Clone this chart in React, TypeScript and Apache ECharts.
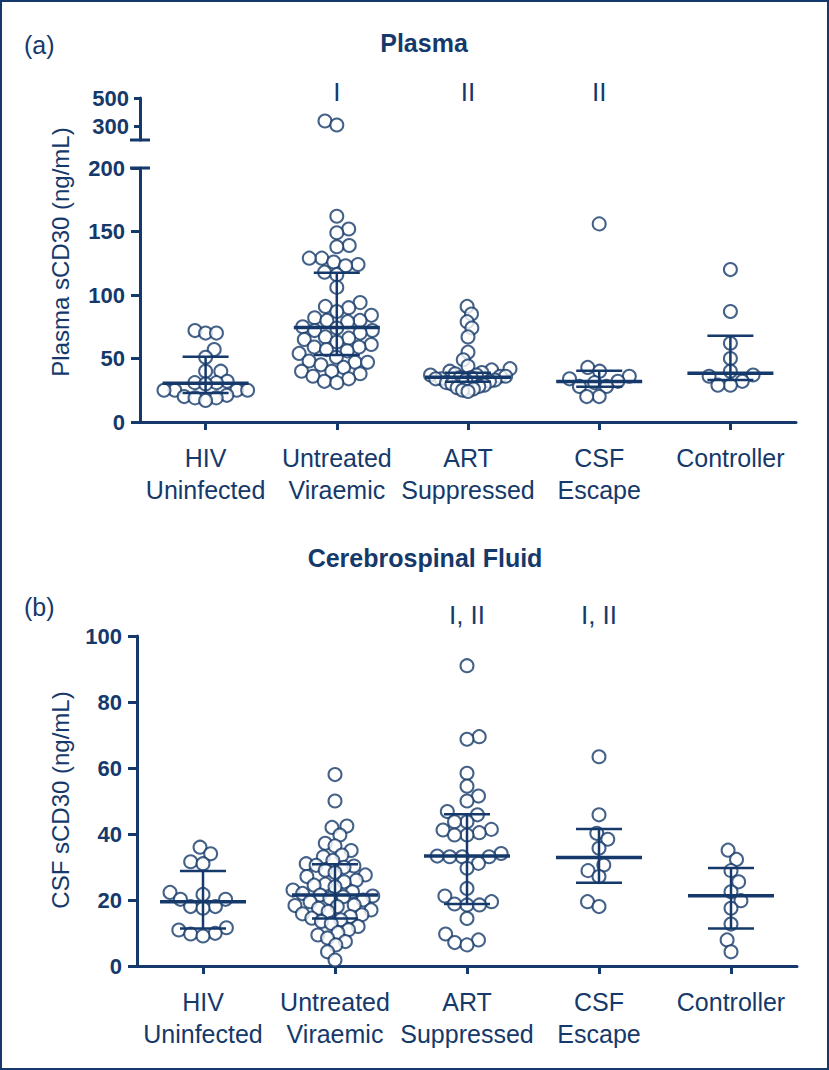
import React, { useEffect, useRef } from "react";
import * as echarts from "echarts";

// ---------- DATA ----------
const categories = ["HIV\nUninfected", "Untreated\nViraemic", "ART\nSuppressed", "CSF\nEscape", "Controller"];

const plasmaHIV = [72, 70, 70, 57, 51, 40, 40, 32, 31, 31, 30, 25, 25, 25, 25, 21, 20, 19, 19, 17];
const plasmaUntreated = [336, 307, 162, 152, 149, 139, 138, 129, 129, 126, 124, 123, 118, 116, 106, 94, 91, 90, 87, 84, 82, 80, 80, 79, 75, 74, 72, 72, 70, 67, 66, 65, 63, 61, 59, 59, 57, 56, 54, 51, 48, 47, 47, 45, 43, 40, 40, 38, 36, 34, 32, 31];
const plasmaART = [91, 85, 79, 74, 67, 55, 49, 44, 42, 41, 40, 39, 38, 37, 37, 36, 36, 35, 35, 34, 34, 33, 33, 32, 31, 30, 29, 28, 27, 26, 25, 24];
const plasmaCSFEscape = [156, 43, 40, 36, 34, 32, 31, 28, 28, 20, 20];
const plasmaController = [120, 87, 62, 50, 40, 37, 36, 32, 29, 29];

const plasmaMedian = [30.5, 74.5, 35.2, 31.8, 38.3];
const plasmaQ1 = [22.8, 52.8, 31.7, 27.8, 33];
const plasmaQ3 = [51.4, 117.6, 38.8, 40.4, 68];

const csfHIV = [36, 34, 31.6, 31, 22.3, 21.7, 20.2, 20.2, 18, 18, 17.5, 11.6, 10.9, 9.9, 9.7, 9.1];
const csfUntreated = [58, 50, 42.4, 42, 39.7, 37.2, 36.4, 35, 33.6, 33.1, 32, 31, 30.5, 30.3, 29.9, 29, 28.3, 27.6, 27.1, 26, 25.5, 24.8, 24.5, 24, 23, 22.5, 22, 21.5, 21.2, 21, 20.5, 20, 19.5, 18.5, 18.3, 18, 17.5, 17, 16.5, 15.8, 15.5, 15, 14.5, 14, 13.5, 12.9, 12, 11, 10.1, 9.4, 8.5, 7.4, 6.4, 4.3, 1.8];
const csfART = [91, 69.5, 68.7, 58.4, 54.5, 51.5, 50, 46.8, 45.8, 43.7, 43.7, 41.4, 41.2, 40.4, 39.7, 39.7, 34.1, 33.3, 33.1, 33.1, 33.1, 31.1, 29.6, 23.5, 21.2, 19.5, 18.8, 18.5, 18.5, 14.4, 9.7, 7.9, 7.1, 6.4];
const csfEscape = [63.4, 45.8, 40.2, 38.4, 35.7, 30.6, 28.9, 27.1, 19.5, 18];
const csfController = [35.1, 32.3, 28.9, 25.5, 22.5, 19.8, 17.5, 12.7, 7.9, 4.3];

const csfMedian = [19.5, 21.5, 33.3, 32.9, 21.3];
const csfQ1 = [11.4, 14.4, 18.8, 25.2, 11.4];
const csfQ3 = [28.8, 30.8, 46, 41.5, 29.7];

const plasmaSignif = ["", "I", "II", "II", ""];
const csfSignif = ["", "", "I, II", "I, II", ""];

const plasmaTicksLow = [0, 200, 50];
const plasmaTicksHigh = [300, 500];
const csfTicks = [0, 100, 20];

// ---------- STYLE / LAYOUT ----------
const NAVY = "#15396a";
const FONT = "Liberation Sans, Arial, Helvetica, sans-serif";

const G_UP = { left: 140, top: 98, width: 656, height: 42 };
const G_LOW = { left: 140, top: 168, width: 656, height: 254 };
const G_CSF = { left: 137, top: 636, width: 660, height: 330 };
const BREAK = 200;
const DOT = 13;
const SEP = 12.5;
const MAX_HALF = 42;

function swarm(values: number[], pxPerUnit: number, d: number): number[] {
  const idx = values.map((_, i) => i).sort((a, b) => values[a] - values[b]);
  const placed: { x: number; y: number }[] = [];
  const out = new Array(values.length).fill(0);
  let flip = 1;
  for (const i of idx) {
    const y = values[i] * pxPerUnit;
    const near = placed.filter((p) => Math.abs(p.y - y) < d);
    const cands = [0];
    for (const p of near) {
      const dx = Math.sqrt(d * d - (p.y - y) ** 2);
      cands.push(p.x + dx, p.x - dx);
    }
    cands.sort((a, b) => Math.abs(a) - Math.abs(b) || (b - a) * flip);
    let chosen = 0;
    for (const c of cands) {
      if (near.every((p) => Math.abs(p.x - c) >= Math.sqrt(d * d - (p.y - y) ** 2) - 1e-6)) {
        chosen = c;
        break;
      }
    }
    flip = -flip;
    placed.push({ x: chosen, y });
    out[i] = chosen;
  }
  const maxAbs = Math.max(1e-9, ...out.map((o) => Math.abs(o)));
  const k = maxAbs > MAX_HALF ? MAX_HALF / maxAbs : 1;
  return out.map((o) => o * k);
}

function buildPoints(groups: number[][], pxPerUnit: number, bandPx: number, filter: (v: number) => boolean, base = 0) {
  const pts: number[][] = [];
  groups.forEach((g, gi) => {
    const vals = g.filter(filter);
    const offs = swarm(vals.map((v) => v - base), pxPerUnit, SEP);
    vals.forEach((v, k) => pts.push([gi + offs[k] / bandPx, v]));
  });
  return pts;
}

function barRender(params: any, api: any) {
  const x = api.value(0);
  const pm = api.coord([x, api.value(1)]);
  const p1 = api.coord([x, api.value(2)]);
  const p3 = api.coord([x, api.value(3)]);
  const st = { stroke: NAVY, lineWidth: 2.5 };
  return {
    type: "group",
    children: [
      { type: "line", shape: { x1: pm[0], y1: p1[1], x2: pm[0], y2: p3[1] }, style: st },
      { type: "line", shape: { x1: pm[0] - 23, y1: p1[1], x2: pm[0] + 23, y2: p1[1] }, style: st },
      { type: "line", shape: { x1: pm[0] - 23, y1: p3[1], x2: pm[0] + 23, y2: p3[1] }, style: st },
      { type: "line", shape: { x1: pm[0] - 43, y1: pm[1], x2: pm[0] + 43, y2: pm[1] }, style: { stroke: NAVY, lineWidth: 3.5 } },
    ],
  };
}

export default function App() {
  const ref = useRef<HTMLDivElement>(null);
  useEffect(() => {
    if (!ref.current) return;
    const chart = echarts.init(ref.current, null, { renderer: "svg" });

    const plasmaGroups = [plasmaHIV, plasmaUntreated, plasmaART, plasmaCSFEscape, plasmaController];
    const csfGroups = [csfHIV, csfUntreated, csfART, csfEscape, csfController];
    const bandLow = G_LOW.width / 5;
    const bandCsf = G_CSF.width / 5;
    const lowPts = buildPoints(plasmaGroups, G_LOW.height / (plasmaTicksLow[1] - plasmaTicksLow[0]), bandLow, (v) => v <= BREAK);
    const upPts = buildPoints(plasmaGroups, G_UP.height / (plasmaTicksHigh[1] - BREAK), G_UP.width / 5, (v) => v > BREAK, BREAK);
    const csfPts = buildPoints(csfGroups, G_CSF.height / (csfTicks[1] - csfTicks[0]), bandCsf, () => true);

    const dotStyle = { color: "#ffffff", borderColor: NAVY, borderWidth: 2 };
    const valX = (grid: number) => ({ type: "value", gridIndex: grid, min: -0.5, max: 4.5, show: false, axisLine: { onZero: false } });
    const catX = (grid: number) => ({
      type: "category",
      gridIndex: grid,
      data: categories,
      boundaryGap: true,
      axisLine: { show: true, onZero: false, lineStyle: { color: NAVY, width: 3 } },
      axisTick: { show: true, alignWithLabel: true, length: 8, lineStyle: { color: NAVY, width: 3 } },
      axisLabel: { interval: 0, color: NAVY, fontSize: 25, lineHeight: 32, margin: 20, fontFamily: FONT },
      splitLine: { show: false },
    });
    const yBase = {
      type: "value",
      axisLine: { show: true, onZero: false, lineStyle: { color: NAVY, width: 3 } },
      axisTick: { show: true, length: 9, lineStyle: { color: NAVY, width: 3 } },
      axisLabel: { color: NAVY, fontSize: 22, fontWeight: "bold", margin: 15, fontFamily: FONT },
      splitLine: { show: false },
    };

    const text = (t: string, x: number, y: number, o: any = {}) => ({
      type: "text",
      x,
      y,
      rotation: o.rotation || 0,
      style: {
        text: t,
        fill: NAVY,
        fontSize: o.fontSize || 25,
        fontWeight: o.fontWeight || "normal",
        fontFamily: FONT,
        align: o.align || "center",
        verticalAlign: "middle",
      },
    });
    const centerX = (g: any, i: number) => g.left + (g.width / 5) * (i + 0.5);
    const graphics: any[] = [
      { type: "rect", shape: { x: 1, y: 1, width: 827, height: 1068 }, style: { fill: "none", stroke: NAVY, lineWidth: 2 } },
      text("(a)", 24, 45, { align: "left" }),
      text("(b)", 24, 607, { align: "left" }),
      text("Plasma", 424, 43, { fontWeight: "bold", fontSize: 25 }),
      text("Cerebrospinal Fluid", 425, 558, { fontWeight: "bold", fontSize: 25 }),
      text("Plasma sCD30 (ng/mL)", 60, 252, { rotation: Math.PI / 2, fontSize: 24 }),
      text("CSF sCD30 (ng/mL)", 60, 800, { rotation: Math.PI / 2, fontSize: 24 }),
      { type: "line", shape: { x1: G_UP.left - 10, y1: G_UP.top + G_UP.height, x2: G_UP.left + 10, y2: G_UP.top + G_UP.height }, style: { stroke: NAVY, lineWidth: 3 } },
      { type: "line", shape: { x1: G_LOW.left - 10, y1: G_LOW.top, x2: G_LOW.left + 10, y2: G_LOW.top }, style: { stroke: NAVY, lineWidth: 3 } },
    ];
    plasmaSignif.forEach((s, i) => s && graphics.push(text(s, centerX(G_LOW, i), 92, { fontSize: 26 })));
    csfSignif.forEach((s, i) => s && graphics.push(text(s, centerX(G_CSF, i), 615, { fontSize: 26 })));

    chart.setOption({
      animation: false,
      backgroundColor: "#ffffff",
      grid: [
        { ...G_UP, containLabel: false },
        { ...G_LOW, containLabel: false },
        { ...G_CSF, containLabel: false },
      ],
      xAxis: [valX(0), catX(1), valX(1), catX(2), valX(2)],
      yAxis: [
        {
          ...yBase,
          gridIndex: 0,
          min: BREAK,
          max: plasmaTicksHigh[1],
          interval: 100,
          axisTick: { ...yBase.axisTick, length: 6, customValues: plasmaTicksHigh },
          axisLabel: { ...yBase.axisLabel, margin: 11, customValues: plasmaTicksHigh },
        },
        { ...yBase, gridIndex: 1, min: plasmaTicksLow[0], max: plasmaTicksLow[1], interval: plasmaTicksLow[2] },
        { ...yBase, gridIndex: 2, min: csfTicks[0], max: csfTicks[1], interval: csfTicks[2] },
      ],
      series: [
        { type: "scatter", xAxisIndex: 0, yAxisIndex: 0, data: upPts, symbol: "circle", symbolSize: DOT, itemStyle: dotStyle, z: 2 },
        { type: "scatter", xAxisIndex: 2, yAxisIndex: 1, data: lowPts, symbol: "circle", symbolSize: DOT, itemStyle: dotStyle, z: 2 },
        {
          type: "custom",
          xAxisIndex: 2,
          yAxisIndex: 1,
          renderItem: barRender,
          data: plasmaMedian.map((m, i) => [i, m, plasmaQ1[i], plasmaQ3[i]]),
          z: 5,
        },
        { type: "scatter", xAxisIndex: 4, yAxisIndex: 2, data: csfPts, symbol: "circle", symbolSize: DOT, itemStyle: dotStyle, z: 2 },
        {
          type: "custom",
          xAxisIndex: 4,
          yAxisIndex: 2,
          renderItem: barRender,
          data: csfMedian.map((m, i) => [i, m, csfQ1[i], csfQ3[i]]),
          z: 5,
        },
      ],
      graphic: graphics,
    });
    return () => chart.dispose();
  }, []);
  return (
    <div style={{ position: "absolute", left: 0, top: 0, width: 829, height: 1070, background: "#fff" }}>
      <div ref={ref} style={{ width: 829, height: 1070 }} />
    </div>
  );
}
